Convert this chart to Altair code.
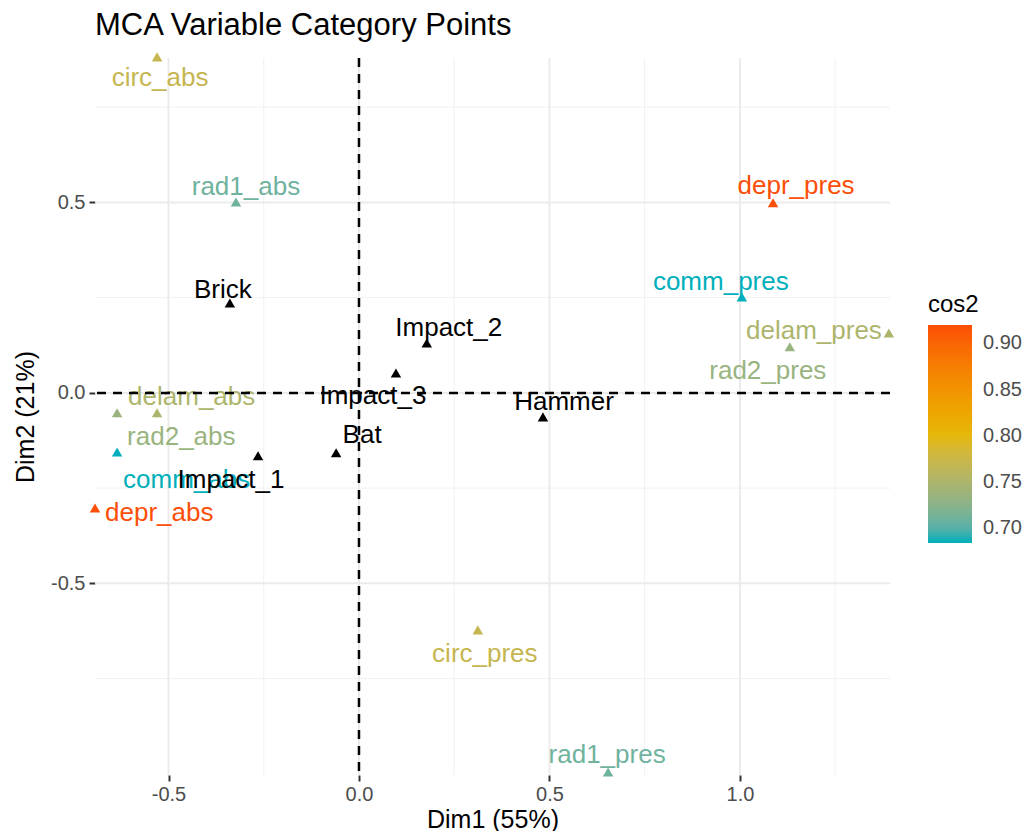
import altair as alt
import pandas as pd

# ---- data ----
act_names = ["circ_abs", "rad1_abs", "depr_pres", "comm_pres", "delam_pres", "rad2_pres",
             "delam_abs", "rad2_abs", "comm_abs", "depr_abs", "circ_pres", "rad1_pres"]
act_dim1 = [-0.530, -0.323, 1.087, 1.005, 1.391, 1.131,
            -0.530, -0.635, -0.635, -0.693, 0.312, 0.654]
act_dim2 = [0.882, 0.501, 0.499, 0.252, 0.157, 0.121,
            -0.052, -0.052, -0.155, -0.302, -0.622, -0.995]
act_cos2 = [0.770, 0.710, 0.920, 0.684, 0.750, 0.735,
            0.750, 0.735, 0.684, 0.920, 0.770, 0.710]

sup_names = ["Brick", "Impact_2", "Impact_3", "Hammer", "Bat", "Impact_1"]
sup_dim1 = [-0.339, 0.178, 0.097, 0.483, -0.060, -0.265]
sup_dim2 = [0.236, 0.131, 0.052, -0.063, -0.157, -0.165]

x_major = [-0.5, 0.0, 0.5, 1.0]
x_minor = [-0.25, 0.25, 0.75, 1.25]
y_major = [-0.5, 0.0, 0.5]
y_minor = [-0.75, -0.25, 0.25, 0.75]
cos2_ticks = [0.70, 0.75, 0.80, 0.85, 0.90]
zero_line = [0.0]

# ---- label placement (repel-like offsets, px) ----
label_place = {
    "circ_abs": ("center", 3, 21),
    "rad1_abs": ("center", 10, -15),
    "depr_pres": ("center", 23, -17),
    "comm_pres": ("center", -21, -15),
    "delam_pres": ("right", -7, -2),
    "rad2_pres": ("center", -22, 24),
    "delam_abs": ("left", -29, -16),
    "rad2_abs": ("left", 10, 24),
    "comm_abs": ("left", 6, 28),
    "depr_abs": ("left", 10, 5),
    "circ_pres": ("center", 7, 24),
    "rad1_pres": ("center", -1, -17),
    "Brick": ("center", -7, -13),
    "Impact_2": ("center", 22, -15),
    "Impact_3": ("center", -23, 23),
    "Hammer": ("center", 21, -15),
    "Bat": ("center", 26, -18),
    "Impact_1": ("center", -27, 24),
}

act = pd.DataFrame({"name": act_names, "dim1": act_dim1, "dim2": act_dim2, "cos2": act_cos2})
sup = pd.DataFrame({"name": sup_names, "dim1": sup_dim1, "dim2": sup_dim2})

FONT = "Liberation Sans"
xs = alt.Scale(domain=[-0.693, 1.394], nice=False, zero=False)
ys = alt.Scale(domain=[-1.003, 0.879], nice=False, zero=False)
cs = alt.Scale(domain=[0.684, 0.802, 0.92], range=["#00AFBB", "#E7B800", "#FC4E07"],
               interpolate="lab")

lab_expr = "datum.value < 0 ? '-' + format(-datum.value, '.1f') : format(datum.value, '.1f')"
common_axis = dict(grid=False, domain=False, ticks=True, tickSize=6, tickWidth=2,
                   tickColor="#333333", labelFontSize=20, labelColor="#4D4D4D",
                   labelFont=FONT, titleFont=FONT, titleFontSize=25,
                   titleFontWeight="normal", titleColor="black", labelExpr=lab_expr)
x_axis = alt.Axis(values=x_major, title="Dim1 (55%)", labelPadding=3, titlePadding=3,
                  **common_axis)
y_axis = alt.Axis(values=y_major, title="Dim2 (21%)", labelPadding=4, titlePadding=12,
                  **common_axis)

leg = alt.Legend(title="cos2", orient="none", legendX=833, legendY=235,
                 direction="vertical", gradientLength=218, gradientThickness=44,
                 gradientStrokeWidth=0, values=cos2_ticks, format=".2f",
                 labelFontSize=20, labelFont=FONT, labelColor="#4D4D4D", labelOffset=11,
                 titleFontSize=24, titleFont=FONT, titleFontWeight="normal",
                 titleColor="black", titlePadding=8, padding=0)


def X(field):
    return alt.X(f"{field}:Q", scale=xs, axis=x_axis)


def Y(field):
    return alt.Y(f"{field}:Q", scale=ys, axis=y_axis)


layers = []
layers.append(alt.Chart(pd.DataFrame({"v": x_minor})).mark_rule(color="#F1F1F1", strokeWidth=1)
              .encode(x=X("v")))
layers.append(alt.Chart(pd.DataFrame({"v": y_minor})).mark_rule(color="#F1F1F1", strokeWidth=1)
              .encode(y=Y("v")))
layers.append(alt.Chart(pd.DataFrame({"v": x_major})).mark_rule(color="#EBEBEB", strokeWidth=2)
              .encode(x=X("v")))
layers.append(alt.Chart(pd.DataFrame({"v": y_major})).mark_rule(color="#EBEBEB", strokeWidth=2)
              .encode(y=Y("v")))

layers.append(alt.Chart(act).mark_point(shape="triangle-up", filled=True, size=110, opacity=1)
              .encode(x=X("dim1"), y=Y("dim2"),
                      color=alt.Color("cos2:Q", scale=cs, legend=leg)))
for nm in act_names:
    al, dx, dy = label_place[nm]
    layers.append(alt.Chart(act).transform_filter(alt.datum.name == nm)
                  .mark_text(align=al, baseline="middle", dx=dx, dy=dy, fontSize=26, font=FONT)
                  .encode(x=X("dim1"), y=Y("dim2"), text="name:N",
                          color=alt.Color("cos2:Q", scale=cs, legend=leg)))

layers.append(alt.Chart(sup).mark_point(shape="triangle-up", filled=True, size=110, opacity=1,
                                         color="black")
              .encode(x=X("dim1"), y=Y("dim2")))
for nm in sup_names:
    al, dx, dy = label_place[nm]
    layers.append(alt.Chart(sup).transform_filter(alt.datum.name == nm)
                  .mark_text(align=al, baseline="middle", dx=dx, dy=dy, fontSize=26, font=FONT,
                             color="black")
                  .encode(x=X("dim1"), y=Y("dim2"), text="name:N"))

layers.append(alt.Chart(pd.DataFrame({"v": zero_line}))
              .mark_rule(color="black", strokeWidth=2.5, strokeDash=[9, 7])
              .encode(x=X("v")))
layers.append(alt.Chart(pd.DataFrame({"v": zero_line}))
              .mark_rule(color="black", strokeWidth=2.5, strokeDash=[9, 7])
              .encode(y=Y("v")))

chart = (
    alt.layer(*layers)
    .properties(
        width=795, height=717,
        title=alt.TitleParams("MCA Variable Category Points", anchor="start", frame="group",
                              fontSize=31, font=FONT, fontWeight="normal", color="black",
                              offset=10),
        autosize=alt.AutoSizeParams(type="none"),
        padding={"left": 87, "top": 50, "right": 133, "bottom": 56},
        background="white",
    )
    .configure_view(stroke=None)
)

chart.save("out.html", embed_options={"renderer": "svg", "actions": False})
